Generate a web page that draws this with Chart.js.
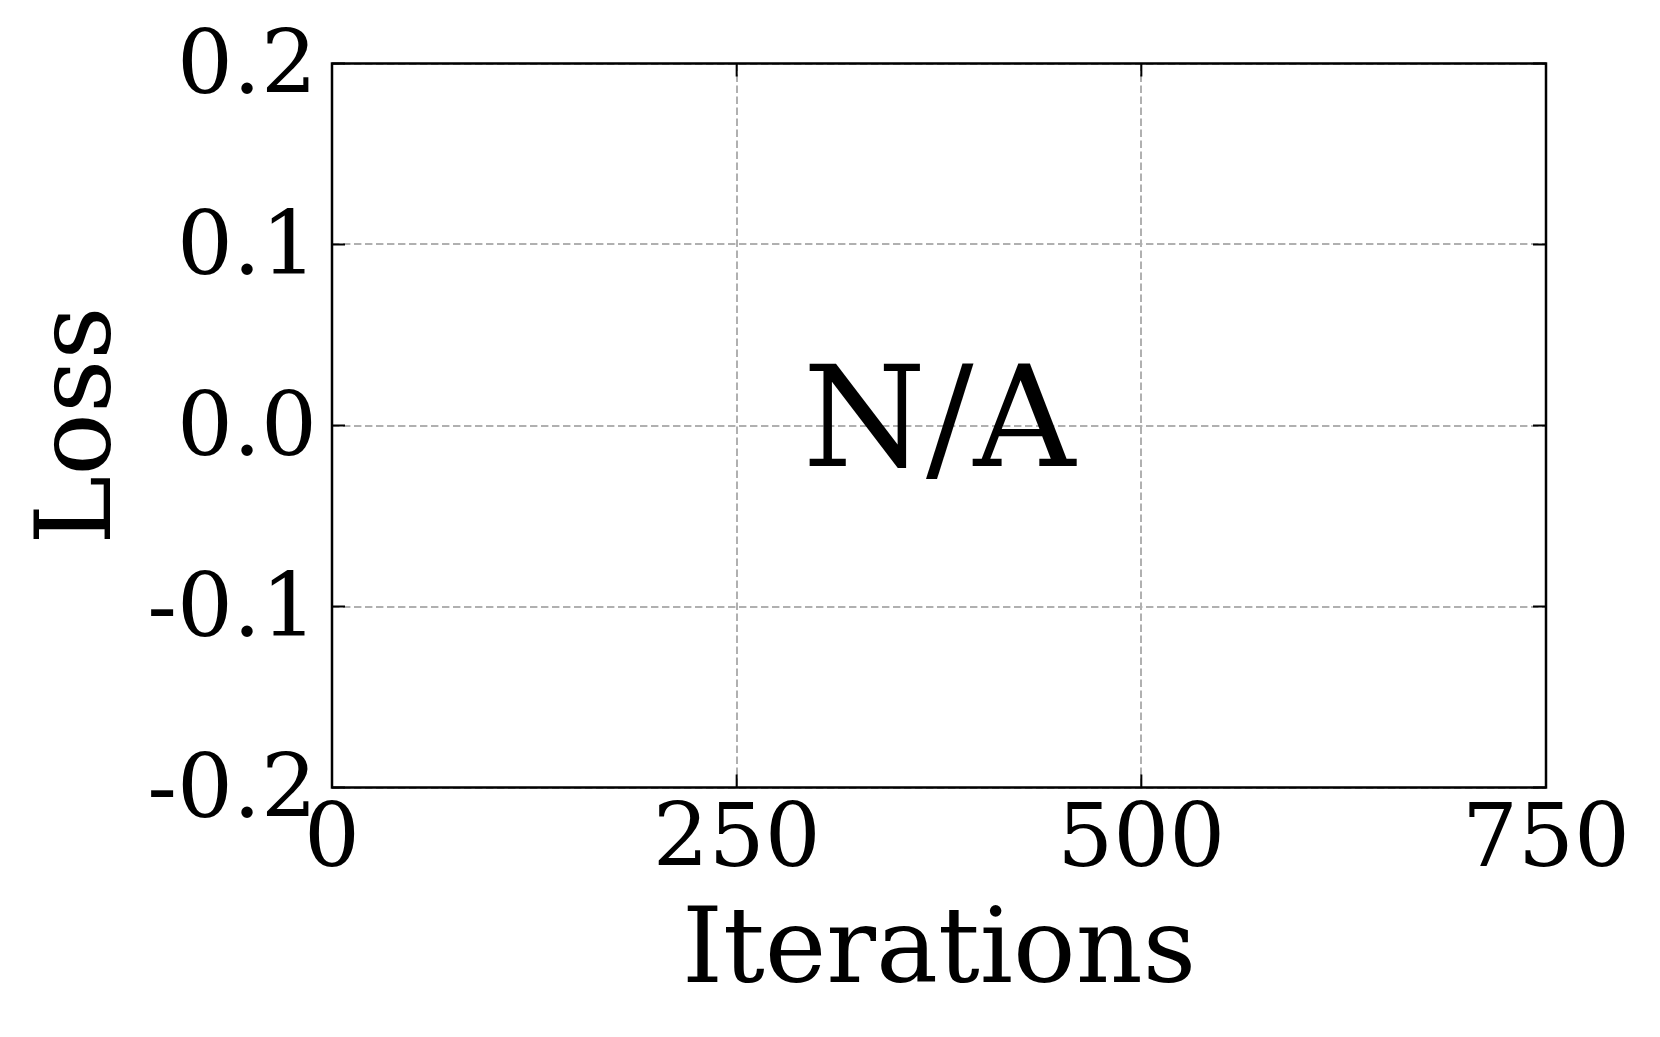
<!DOCTYPE html>
<html>
<head>
<meta charset="utf-8">
<script src="https://cdn.jsdelivr.net/npm/chart.js@4"></script>
<style>
  html, body { margin: 0; padding: 0; background: #fff; }
</style>
</head>
<body>
<canvas id="lossChart" width="1660" height="1037"></canvas>
<script>
// no training data was logged for this run, so the plot is empty
var iterations = [];
var lossValues = [];
var xTicks = [0, 250, 500, 750];
var yTicks = [-0.2, -0.1, 0.0, 0.1, 0.2];
var emptyText = 'N/A';

var serif = "'DejaVu Serif', 'Liberation Serif', serif";

// matplotlib style: full box and ticks pointing inwards on all sides
var boxAndTicks = {
    id: 'boxAndTicks',
    afterDraw: function(chart) {
        var ctx = chart.ctx;
        var a = chart.chartArea;
        var xs = chart.scales.x, ys = chart.scales.y;
        var len = 13;
        ctx.save();
        ctx.strokeStyle = '#000';
        ctx.lineWidth = 2;
        ctx.beginPath();
        xs.ticks.forEach(function(t) {
            var px = xs.getPixelForValue(t.value);
            ctx.moveTo(px, a.bottom); ctx.lineTo(px, a.bottom - len);
            ctx.moveTo(px, a.top); ctx.lineTo(px, a.top + len);
        });
        ys.ticks.forEach(function(t) {
            var py = ys.getPixelForValue(t.value);
            ctx.moveTo(a.left, py); ctx.lineTo(a.left + len, py);
            ctx.moveTo(a.right, py); ctx.lineTo(a.right - len, py);
        });
        ctx.stroke();
        ctx.lineWidth = 2.5;
        ctx.strokeRect(a.left, a.top, a.right - a.left, a.bottom - a.top);

        // placeholder text in the middle of the empty axes
        ctx.fillStyle = '#000';
        ctx.font = '141px ' + serif;
        ctx.textAlign = 'center';
        ctx.textBaseline = 'alphabetic';
        ctx.fillText(emptyText, xs.getPixelForValue(375), ys.getPixelForValue(0) + 40);
        ctx.restore();
    }
};

var ctx = document.getElementById('lossChart').getContext('2d');
var myChart = new Chart(ctx, {
    type: 'line',
    data: {
        datasets: [{
            label: 'Loss',
            data: iterations.map(function(it, i) { return {x: it, y: lossValues[i]}; }),
            borderColor: '#1f77b4',
            pointRadius: 0
        }]
    },
    options: {
        responsive: false,
        animation: false,
        layout: {
            padding: { left: 0, top: 63.5, right: 114, bottom: 0 }
        },
        plugins: {
            legend: { display: false },
            tooltip: { enabled: false }
        },
        scales: {
            x: {
                type: 'linear',
                min: 0,
                max: 750,
                afterBuildTicks: function(scale) {
                    scale.ticks = xTicks.map(function(v) { return {value: v}; });
                },
                afterFit: function(scale) { scale.height = 249.5; },
                ticks: {
                    color: '#000',
                    padding: 12,
                    maxRotation: 0,
                    font: { family: serif, size: 88, lineHeight: 1 },
                    callback: function(v) { return String(v); }
                },
                grid: { color: '#b0b0b0', lineWidth: 2, drawTicks: false },
                border: { display: false, dash: [7.4, 3.6] },
                title: {
                    display: true,
                    text: 'Iterations',
                    color: '#000',
                    font: { family: serif, size: 104, lineHeight: 1 },
                    padding: { top: 0, bottom: 30.5 }
                }
            },
            y: {
                min: -0.2,
                max: 0.2,
                afterBuildTicks: function(scale) {
                    scale.ticks = yTicks.map(function(v) { return {value: v}; });
                },
                afterFit: function(scale) { scale.width = 332; },
                ticks: {
                    color: '#000',
                    padding: 15,
                    labelOffset: 7,
                    font: { family: serif, size: 88, lineHeight: 1 },
                    callback: function(v) {
                        if (Math.abs(v) < 1e-9) v = 0;
                        return v.toFixed(1);
                    }
                },
                grid: { color: '#b0b0b0', lineWidth: 2, drawTicks: false },
                border: { display: false, dash: [7.4, 3.6] },
                title: {
                    display: true,
                    text: 'Loss',
                    color: '#000',
                    font: { family: serif, size: 104, lineHeight: 1 },
                    padding: { top: 31, bottom: 0 }
                }
            }
        }
    },
    plugins: [boxAndTicks]
});
</script>
</body>
</html>
